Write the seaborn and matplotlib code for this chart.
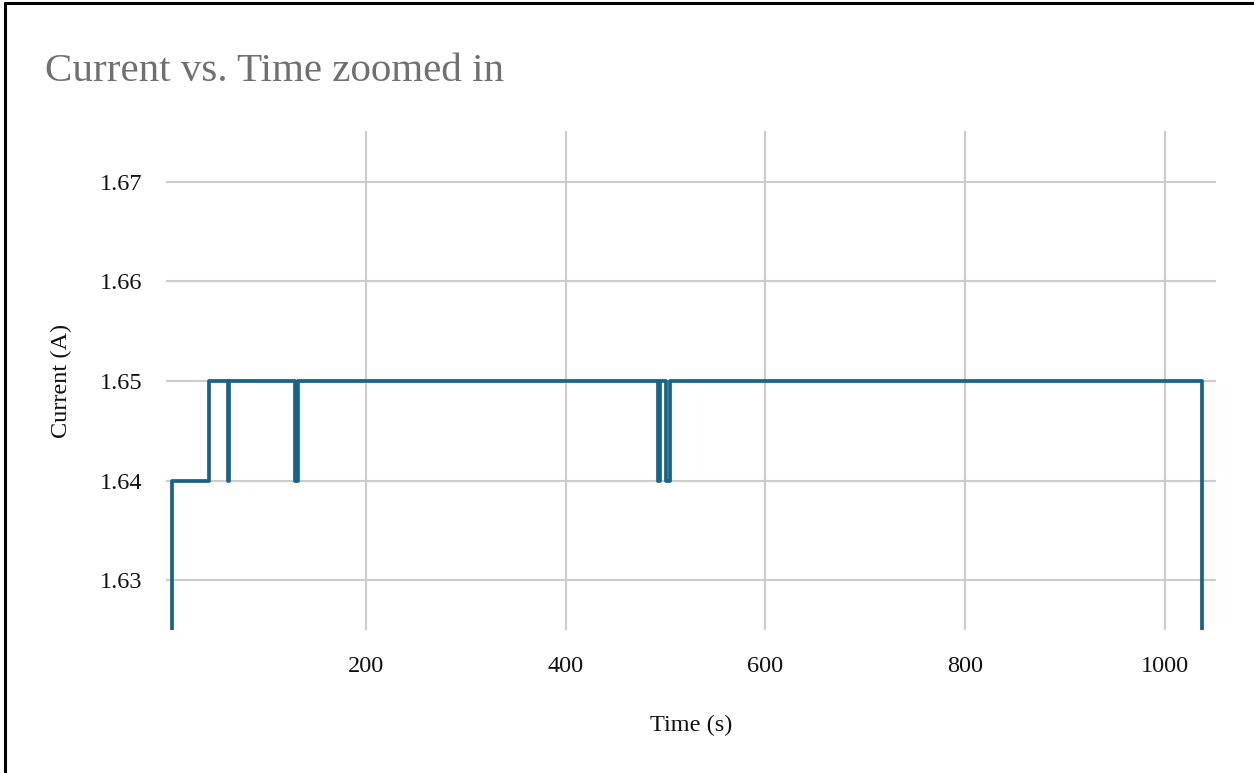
import matplotlib
matplotlib.use("Agg")
import matplotlib.pyplot as plt
from matplotlib.lines import Line2D
import seaborn as sns
import pandas as pd

# Sampled current readings (step changes) over the run
time_s = [4, 6, 43, 62, 63.5, 129, 132, 492, 494.5, 500.5, 504, 1037, 1039]
current_a = [1.60, 1.64, 1.65, 1.64, 1.65, 1.64, 1.65, 1.64, 1.65, 1.64, 1.65, 1.60, 1.60]

x_ticks = [200, 400, 600, 800, 1000]
y_ticks = [1.63, 1.64, 1.65, 1.66, 1.67]

df = pd.DataFrame({"Time (s)": time_s, "Current (A)": current_a})

sns.set_theme(style="whitegrid")
plt.rcParams["font.family"] = ["Liberation Serif", "DejaVu Serif"]

fig = plt.figure(figsize=(12.54, 7.73), dpi=100)
ax = fig.add_axes([0.1324, 0.185, 0.8373, 0.6455])

sns.lineplot(data=df, x="Time (s)", y="Current (A)", ax=ax,
             estimator=None, sort=False, drawstyle="steps-post",
             color="#1b6385", linewidth=2.7)

ax.set_xlim(0, 1051)
ax.set_ylim(1.625, 1.6751)
ax.set_xticks(x_ticks)
ax.set_yticks(y_ticks)
ax.set_xticklabels([str(v) for v in x_ticks])
ax.set_yticklabels([f"{v:.2f}" for v in y_ticks])

ax.grid(True, color="#cccccc", linewidth=1.5)
for s in ax.spines.values():
    s.set_visible(False)
ax.tick_params(axis="both", length=0, labelsize=17.5, colors="#111111")
ax.tick_params(axis="y", pad=17)
ax.tick_params(axis="x", pad=19)

ax.set_xlabel("Time (s)", fontsize=17.5, color="#111111", labelpad=27)
ax.set_ylabel("Current (A)", fontsize=17.5, color="#111111", labelpad=20)

fig.text(0.036, 0.907, "Current vs. Time zoomed in", fontsize=29.5,
         color="#707070", ha="left", va="center")

# Frame edges along the top and left of the canvas
fig.add_artist(Line2D([5 / 1254, 5 / 1254], [0, 1 - 3 / 773],
                      transform=fig.transFigure, color="black", linewidth=2.2))
fig.add_artist(Line2D([5 / 1254, 1], [1 - 3 / 773, 1 - 3 / 773],
                      transform=fig.transFigure, color="black", linewidth=2.2))

fig.savefig("out.png", dpi=100, facecolor="white")
